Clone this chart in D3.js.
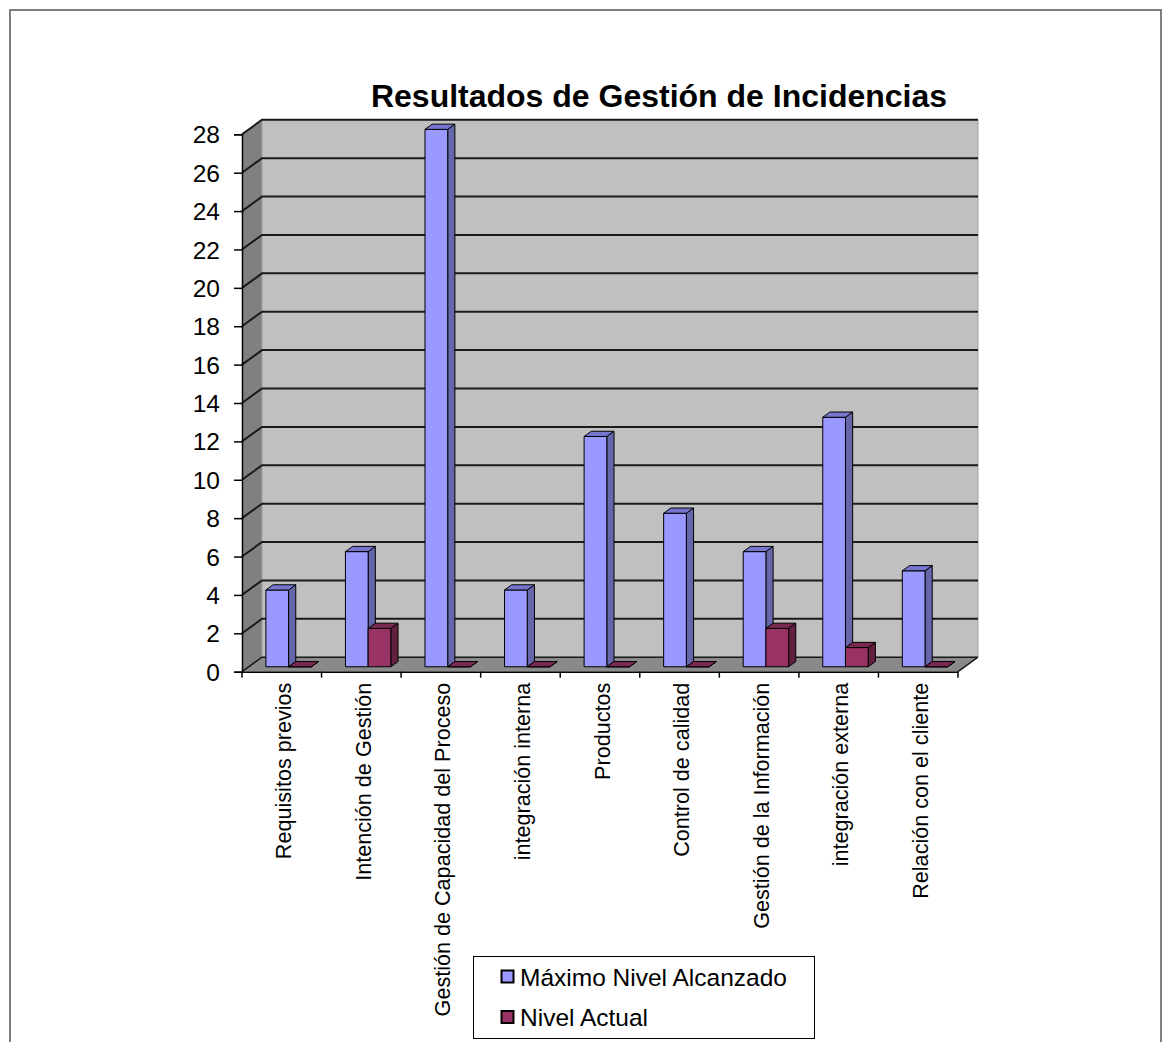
<!DOCTYPE html>
<html>
<head>
<meta charset="utf-8">
<script src="https://cdn.jsdelivr.net/npm/d3@7"></script>
<style>
  html, body { margin: 0; padding: 0; background: #fff; }
  svg { display: block; }
  text { font-family: "Liberation Sans", Arial, sans-serif; fill: #000; }
</style>
</head>
<body>
<svg id="chart" width="1163" height="1042"></svg>
<script>
// Categories of the incident-management assessment
const categories = [
  "Requisitos previos",
  "Intención de Gestión",
  "Gestión de Capacidad del Proceso",
  "integración interna",
  "Productos",
  "Control de calidad",
  "Gestión de la Información",
  "integración externa",
  "Relación con el cliente"
];
const maxLevel = [4, 6, 28, 4, 12, 8, 6, 13, 5];
const currentLevel = [0, 2, 0, 0, 0, 0, 2, 1, 0];
const seriesNames = ["Máximo Nivel Alcanzado", "Nivel Actual"];
const yTicks = [0, 2, 4, 6, 8, 10, 12, 14, 16, 18, 20, 22, 24, 26, 28];
const title = "Resultados de Gestión de Incidencias";

const series = [
  { name: seriesNames[0], values: maxLevel, front: "#9999FF", side: "#6666AA", top: "#7676CF" },
  { name: seriesNames[1], values: currentLevel, front: "#993366", side: "#62203F", top: "#7A2951" }
];

const svg = d3.select("#chart");

// Outer frame
svg.append("rect")
  .attr("x", 10).attr("y", 10).attr("width", 1151).attr("height", 1100)
  .attr("fill", "none").attr("stroke", "#7f7f7f").attr("stroke-width", 2);

// 3-D box: front plane x/y scales plus a depth offset
const x = d3.scaleBand().domain(categories).range([242, 958]).paddingInner(0).paddingOuter(0);
const y = d3.scaleLinear().domain([0, 28]).range([671.7, 134.3]);
const DX = 20, DY = -14.5;           // full depth of the box
const proj = (px, v, z) => [px + z * DX, y(v) + z * DY];

const g = svg.append("g");

// Left side wall
g.append("path")
  .attr("d", d3.line()([proj(242, 0, 0), proj(242, 28, 0), proj(242, 28, 1), proj(242, 0, 1)]) + "Z")
  .attr("fill", "#808080").attr("stroke", "none");

// Back wall
g.append("path")
  .attr("d", d3.line()([proj(242, 0, 1), proj(242, 28, 1), proj(958, 28, 1), proj(958, 0, 1)]) + "Z")
  .attr("fill", "#C0C0C0").attr("stroke", "#a0a0a0").attr("stroke-width", 1);

// Floor
g.append("path")
  .attr("d", d3.line()([proj(242, 0, 0), proj(958, 0, 0), proj(958, 0, 1), proj(242, 0, 1)]) + "Z")
  .attr("fill", "#8a8a8a").attr("stroke", "none");

// Gridlines on the back wall and the side wall
yTicks.forEach(t => {
  if (t === 0) return;
  const a = proj(242, t, 0), b = proj(242, t, 1), c = proj(958, t, 1);
  g.append("path").attr("d", d3.line()([a, b, c]))
    .attr("fill", "none").attr("stroke", "#1a1a1a").attr("stroke-width", 2);
});
// Base edges of the walls
g.append("path").attr("d", d3.line()([proj(242, 0, 0), proj(242, 0, 1), proj(958, 0, 1)]))
  .attr("fill", "none").attr("stroke", "#1a1a1a").attr("stroke-width", 1.5);
g.append("path").attr("d", d3.line()([proj(958, 0, 0), proj(958, 0, 1)]))
  .attr("fill", "none").attr("stroke", "#1a1a1a").attr("stroke-width", 1.5);

// Bars
const barW = 22.7;
const pad = (x.bandwidth() - 2 * barW) / 2;
const z0 = 0.34, z1 = 0.70;
const bars = g.append("g");
categories.forEach((cat, i) => {
  series.forEach((s, si) => {
    const v = s.values[i];
    const xl = x(cat) + pad + si * barW, xr = xl + barW;
    const front = [proj(xl, 0, z0), proj(xl, v, z0), proj(xr, v, z0), proj(xr, 0, z0)];
    const side = [proj(xr, 0, z0), proj(xr, v, z0), proj(xr, v, z1), proj(xr, 0, z1)];
    const top = [proj(xl, v, z0), proj(xl, v, z1), proj(xr, v, z1), proj(xr, v, z0)];
    const bg = bars.append("g");
    [[side, s.side], [front, s.front], [top, s.top]].forEach(([pts, col]) => {
      bg.append("path").attr("d", d3.line()(pts) + "Z")
        .attr("fill", col).attr("stroke", "#000").attr("stroke-width", 1)
        .attr("stroke-linejoin", "round");
    });
  });
});

// Value axis (front-left edge)
const yAxis = d3.axisLeft(y).tickValues(yTicks).tickSize(8).tickPadding(14).tickFormat(d3.format("d"));
const ya = svg.append("g").attr("transform", "translate(242,0)").call(yAxis);
ya.select(".domain").attr("stroke", "#000").attr("stroke-width", 1.5);
ya.selectAll(".tick line").attr("stroke", "#000").attr("stroke-width", 1.5);
ya.selectAll(".tick text").attr("font-size", 24.5).attr("font-family", "Liberation Sans, Arial, sans-serif").attr("dy", "0.35em");

// Category axis (front floor edge)
const xAxis = d3.axisBottom(x).tickSize(0).tickFormat("");
const xa = svg.append("g").attr("transform", `translate(0,${y(0)})`).call(xAxis);
xa.select(".domain").attr("stroke", "#000").attr("stroke-width", 1.5);
const bounds = categories.map(c => x(c)).concat([x.range()[1]]);
xa.selectAll(".bound").data(bounds).join("line").attr("class", "bound")
  .attr("x1", d => d).attr("x2", d => d).attr("y1", 0).attr("y2", 6)
  .attr("stroke", "#000").attr("stroke-width", 1.5);
xa.selectAll(".cat").data(categories).join("text").attr("class", "cat")
  .attr("transform", d => `translate(${x(d) + x.bandwidth() / 2 + 2},11) rotate(-90)`)
  .attr("text-anchor", "end").attr("dy", "0.35em")
  .attr("font-size", 21.6)
  .text(d => d);

// Title
svg.append("text").attr("x", 659).attr("y", 107).attr("text-anchor", "middle")
  .attr("font-size", 32).attr("font-weight", "bold").text(title);

// Legend
const lg = svg.append("g");
lg.append("rect").attr("x", 473.5).attr("y", 956.5).attr("width", 341).attr("height", 82)
  .attr("fill", "#fff").attr("stroke", "#000").attr("stroke-width", 1);
series.forEach((s, i) => {
  const cy = 977 + i * 40.5;
  lg.append("rect").attr("x", 501.5).attr("y", cy - 6.5).attr("width", 12).attr("height", 12)
    .attr("fill", s.front).attr("stroke", "#000").attr("stroke-width", 2);
  lg.append("text").attr("x", 520).attr("y", cy).attr("dy", "0.35em")
    .attr("font-size", 24.5).text(s.name);
});
</script>
</body>
</html>
